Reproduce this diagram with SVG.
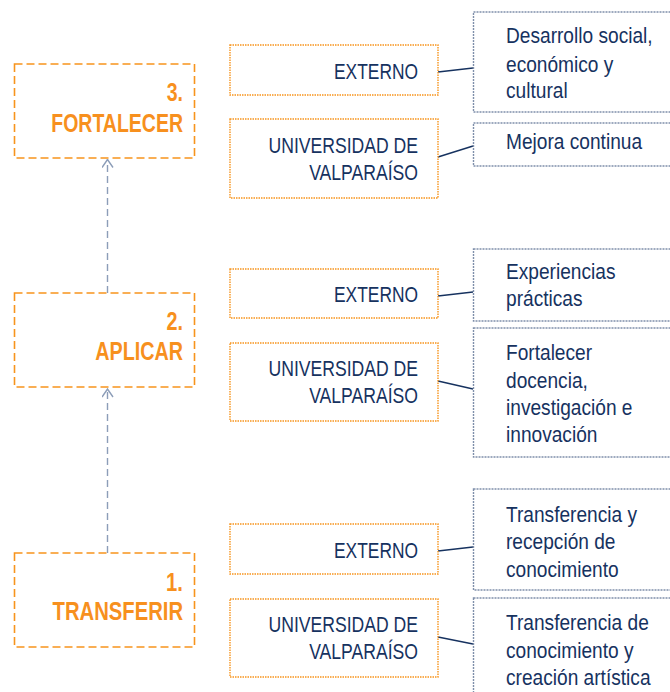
<svg xmlns="http://www.w3.org/2000/svg" width="670" height="692" viewBox="0 0 670 692">
<defs>
<style>
.stage{fill:none;stroke:#F7941D;stroke-width:1.6;stroke-dasharray:8 4}
.mid{fill:none;stroke:#F7941D;stroke-width:1.4;stroke-dasharray:1.5 1}
.res{fill:none;stroke:#7F8FAA;stroke-width:1.4;stroke-dasharray:2 1}
.st{font-family:"Liberation Sans",Arial,sans-serif;font-weight:bold;font-size:25px;fill:#F7901E;text-anchor:end}
.mt{font-family:"Liberation Sans",Arial,sans-serif;font-size:22px;fill:#16325F;text-anchor:end}
.rt{font-family:"Liberation Sans",Arial,sans-serif;font-size:22.5px;fill:#16325F}
.flow{fill:none;stroke:#8C9DB8;stroke-width:1.4;stroke-dasharray:7 4}
.link{fill:none;stroke:#16325F;stroke-width:1.4}
</style>
<marker id="arr" viewBox="0 0 10 12" refX="9" refY="6" markerWidth="10" markerHeight="12" markerUnits="userSpaceOnUse" orient="auto">
<path d="M1,0.5 L9,6 L1,11.5" fill="none" stroke="#8C9DB8" stroke-width="1.4"/>
</marker>
</defs>
<rect width="670" height="692" fill="#ffffff"/>

<g id="connectors">
<line class="flow" x1="107.5" y1="553" x2="107.5" y2="389" marker-end="url(#arr)"/>
<line class="flow" x1="107.5" y1="293" x2="107.5" y2="159.5" marker-end="url(#arr)"/>
<line class="link" x1="438" y1="72" x2="473" y2="68"/>
<line class="link" x1="438" y1="157" x2="473" y2="146"/>
<line class="link" x1="438" y1="296" x2="473" y2="292"/>
<line class="link" x1="438" y1="381" x2="473" y2="389"/>
<line class="link" x1="438" y1="551" x2="473" y2="547"/>
<line class="link" x1="438" y1="637" x2="473" y2="644"/>
</g>

<g id="fortalecer">
<rect class="stage" x="14.5" y="64" width="180" height="94"/>
<g transform="translate(183 0) scale(0.78 1)">
<text class="st" x="0" y="101">3.</text>
<text class="st" x="0" y="132">FORTALECER</text>
</g>
</g>
<g id="aplicar">
<rect class="stage" x="14.5" y="293" width="180" height="94"/>
<g transform="translate(183 0) scale(0.79 1)">
<text class="st" x="0" y="330">2.</text>
<text class="st" x="0" y="360">APLICAR</text>
</g>
</g>
<g id="transferir">
<rect class="stage" x="14.5" y="553" width="180" height="94"/>
<g transform="translate(183 0) scale(0.81 1)">
<text class="st" x="0" y="591">1.</text>
<text class="st" x="0" y="620">TRANSFERIR</text>
</g>
</g>

<g id="externo3">
<rect class="mid" x="230" y="45" width="208" height="50"/>
<text class="mt" transform="translate(418 0) scale(0.79 1)" x="0" y="79">EXTERNO</text>
</g>
<g id="uv3">
<rect class="mid" x="230" y="119" width="208" height="79"/>
<g transform="translate(418 0) scale(0.8 1)">
<text class="mt" x="0" y="153">UNIVERSIDAD DE</text>
<text class="mt" x="0" y="180">VALPARAÍSO</text>
</g>
</g>
<g id="externo2">
<rect class="mid" x="230" y="269" width="208" height="49"/>
<text class="mt" transform="translate(418 0) scale(0.79 1)" x="0" y="302">EXTERNO</text>
</g>
<g id="uv2">
<rect class="mid" x="230" y="343" width="208" height="78"/>
<g transform="translate(418 0) scale(0.8 1)">
<text class="mt" x="0" y="376">UNIVERSIDAD DE</text>
<text class="mt" x="0" y="403">VALPARAÍSO</text>
</g>
</g>
<g id="externo1">
<rect class="mid" x="230" y="524" width="208" height="50"/>
<text class="mt" transform="translate(418 0) scale(0.79 1)" x="0" y="558">EXTERNO</text>
</g>
<g id="uv1">
<rect class="mid" x="230" y="599" width="208" height="78"/>
<g transform="translate(418 0) scale(0.8 1)">
<text class="mt" x="0" y="632">UNIVERSIDAD DE</text>
<text class="mt" x="0" y="659">VALPARAÍSO</text>
</g>
</g>

<g id="r3a">
<rect class="res" x="473.5" y="12" width="200" height="100"/>
<g transform="translate(506 0) scale(0.85 1)">
<text class="rt" x="0" y="43">Desarrollo social,</text>
<text class="rt" x="0" y="72">económico y</text>
<text class="rt" x="0" y="98">cultural</text>
</g>
</g>
<g id="r3b">
<rect class="res" x="473.5" y="123" width="200" height="43"/>
<text class="rt" transform="translate(506 0) scale(0.85 1)" x="0" y="149">Mejora continua</text>
</g>
<g id="r2a">
<rect class="res" x="473.5" y="249" width="200" height="72"/>
<g transform="translate(506 0) scale(0.85 1)">
<text class="rt" x="0" y="279">Experiencias</text>
<text class="rt" x="0" y="306">prácticas</text>
</g>
</g>
<g id="r2b">
<rect class="res" x="473.5" y="328" width="200" height="129"/>
<g transform="translate(506 0) scale(0.85 1)">
<text class="rt" x="0" y="360">Fortalecer</text>
<text class="rt" x="0" y="388">docencia,</text>
<text class="rt" x="0" y="415">investigación e</text>
<text class="rt" x="0" y="442">innovación</text>
</g>
</g>
<g id="r1a">
<rect class="res" x="473.5" y="489" width="200" height="101"/>
<g transform="translate(506 0) scale(0.85 1)">
<text class="rt" x="0" y="522">Transferencia y</text>
<text class="rt" x="0" y="549">recepción de</text>
<text class="rt" x="0" y="577">conocimiento</text>
</g>
</g>
<g id="r1b">
<rect class="res" x="473.5" y="598" width="200" height="110"/>
<g transform="translate(506 0) scale(0.85 1)">
<text class="rt" x="0" y="630">Transferencia de</text>
<text class="rt" x="0" y="658">conocimiento y</text>
<text class="rt" x="0" y="685">creación artística</text>
</g>
</g>
</svg>
